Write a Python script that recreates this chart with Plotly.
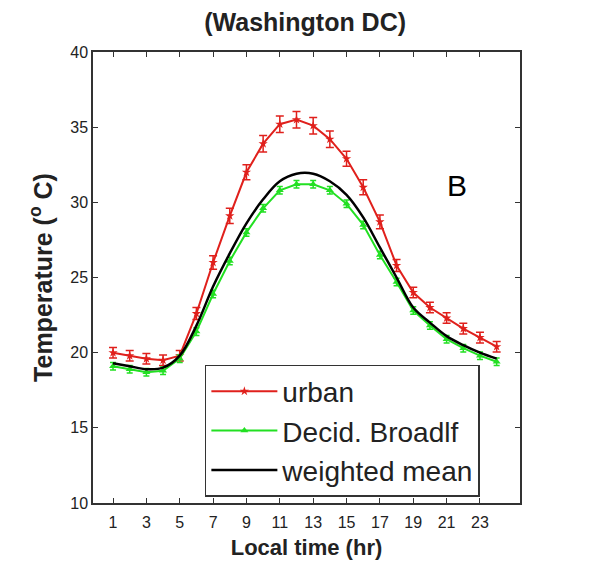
import plotly.graph_objects as go

hours = list(range(1, 25))
urban = [20.0, 19.8, 19.6, 19.5, 19.8, 22.6, 26.0, 29.1, 32.0, 33.9, 35.2, 35.5,
         35.1, 34.2, 32.9, 31.0, 28.7, 25.8, 24.0, 23.0, 22.3, 21.6, 21.0, 20.4]
urban_err = [0.35, 0.35, 0.35, 0.35, 0.35, 0.4, 0.45, 0.5, 0.5, 0.55, 0.55, 0.55,
             0.55, 0.55, 0.5, 0.5, 0.45, 0.4, 0.35, 0.35, 0.35, 0.35, 0.35, 0.35]
decid = [19.1, 18.9, 18.7, 18.8, 19.6, 21.4, 23.9, 26.1, 28.0, 29.6, 30.8, 31.2,
         31.2, 30.8, 29.9, 28.5, 26.5, 24.7, 22.8, 21.8, 20.9, 20.3, 19.8, 19.4]
decid_err = [0.25] * 24
wmean = [19.3, 19.1, 18.9, 19.0, 19.8, 21.8, 24.4, 26.6, 28.6, 30.2, 31.4, 31.9,
         31.9, 31.4, 30.5, 29.0, 27.0, 25.0, 23.0, 22.0, 21.1, 20.5, 20.0, 19.6]
xticks = list(range(1, 24, 2))
yticks = [10, 15, 20, 25, 30, 35, 40]

font = "Liberation Sans, Arial, Helvetica, sans-serif"

fig = go.Figure()
fig.add_trace(go.Scatter(
    x=hours, y=urban, name="urban", mode="lines+markers",
    line=dict(color="#e0201c", width=2),
    marker=dict(symbol="star", size=7, color="#e0201c"),
    error_y=dict(type="data", array=urban_err, color="#e0201c", thickness=1.5, width=4),
))
fig.add_trace(go.Scatter(
    x=hours, y=decid, name="Decid. Broadlf", mode="lines+markers",
    line=dict(color="#22e022", width=2),
    marker=dict(symbol="triangle-up", size=7, color="#22e022"),
    error_y=dict(type="data", array=decid_err, color="#22e022", thickness=1.5, width=3),
))
fig.add_trace(go.Scatter(
    x=hours, y=wmean, name="weighted mean", mode="lines",
    line=dict(color="black", width=2.5, shape="spline"),
))

fig.add_annotation(x=21.6, y=31.15, text="B", showarrow=False,
                   font=dict(size=30, color="black", family=font), xref="x", yref="y")

axis_common = dict(showline=True, linecolor="#333", linewidth=1.5, mirror="ticks",
                   ticks="inside", ticklen=5, tickcolor="#333", showgrid=False,
                   zeroline=False, tickfont=dict(size=16, color="#222", family=font))

fig.update_xaxes(range=[-0.2, 25.4], tickvals=xticks, ticktext=[str(t) for t in xticks],
                 ticklabelstandoff=4,
                 title=dict(text="<b>Local time (hr)</b>", font=dict(size=22, color="#222", family=font), standoff=10),
                 **axis_common)
fig.update_yaxes(range=[10, 40], tickvals=yticks, ticktext=[str(t) for t in yticks],
                 title=dict(text="<b>Temperature (<sup>o</sup> C)</b>", font=dict(size=25, color="#222", family=font), standoff=11),
                 **axis_common)

fig.update_layout(
    width=604, height=572,
    margin=dict(l=85, r=92, t=44, b=77, autoexpand=False),
    paper_bgcolor="white", plot_bgcolor="white",
    title=dict(text="<b>(Washington DC)</b>", x=0.492, xanchor="center", y=0.975, yanchor="middle",
               font=dict(size=25, color="#222", family=font)),
    legend=dict(x=0.262, y=0.306, xanchor="left", yanchor="top",
                bordercolor="#333", borderwidth=1.5, bgcolor="white",
                font=dict(size=28, color="#222", family=font), itemwidth=66,
                tracegroupgap=0),
    showlegend=True,
)

fig.write_html("out.html")
